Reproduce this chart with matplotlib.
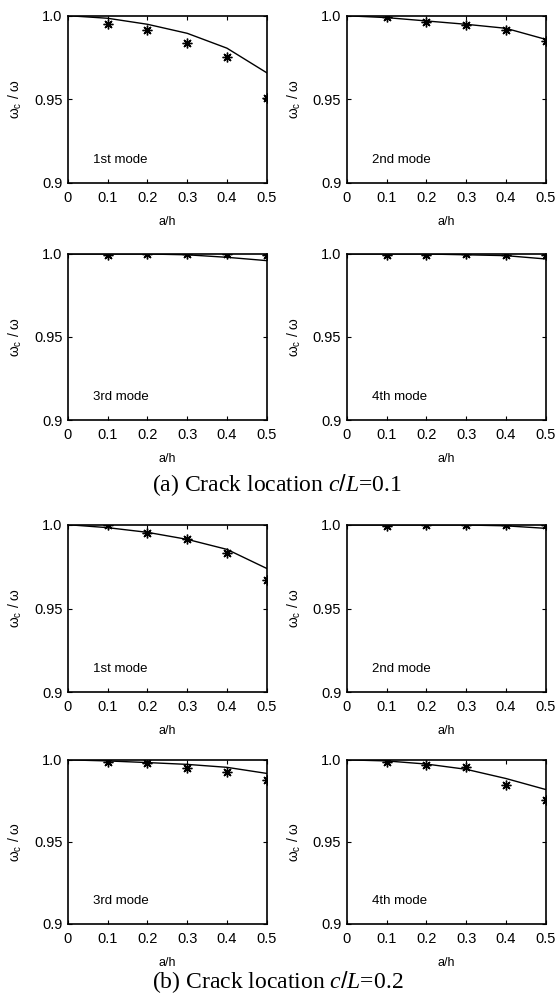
import matplotlib.pyplot as plt

plt.rcParams['font.family'] = ['Liberation Sans', 'DejaVu Sans']
plt.rcParams['mathtext.fontset'] = 'custom'
plt.rcParams['mathtext.rm'] = 'Liberation Sans'
plt.rcParams['mathtext.it'] = 'Liberation Serif:italic'

# crack depth ratio
a_h = [0.1, 0.2, 0.3, 0.4, 0.5]
a_h_line = [0.01, 0.1, 0.2, 0.3, 0.4, 0.5]
modes = ['1st mode', '2nd mode', '3rd mode', '4th mode']

# c/L = 0.1 : measured (stars) and computed (line)
meas_01 = [
    [0.995, 0.9916, 0.9837, 0.9757, 0.951],
    [0.9994, 0.9966, 0.9946, 0.9914, 0.985],
    [0.9994, 1.0, 1.0, 1.0, 0.9994],
    [0.9996, 0.9996, 1.0, 0.9996, 0.9994],
]
calc_01 = [
    [1.0, 0.9986, 0.995, 0.9896, 0.9807, 0.966],
    [1.0, 0.999, 0.997, 0.995, 0.9926, 0.986],
    [1.0, 1.0, 1.0, 0.9995, 0.998, 0.996],
    [1.0, 1.0, 1.0, 0.9995, 0.999, 0.997],
]

# c/L = 0.2
meas_02 = [
    [1.0, 0.995, 0.9914, 0.9834, 0.967],
    [0.9996, 1.0, 1.0, 1.0, 1.0],
    [0.999, 0.998, 0.995, 0.9924, 0.988],
    [0.999, 0.997, 0.996, 0.9846, 0.9754],
]
calc_02 = [
    [1.0, 0.9984, 0.9956, 0.9914, 0.9854, 0.974],
    [1.0, 1.0, 1.0, 1.0, 0.9995, 0.998],
    [1.0, 0.9994, 0.9984, 0.9973, 0.9955, 0.9918],
    [1.0, 0.9994, 0.9975, 0.9943, 0.9887, 0.982],
]

fig = plt.figure(figsize=(5.55, 9.96), dpi=100)

col_left = [0.1225, 0.625]
col_w = 0.358
row_bottom = [0.8163, 0.5783, 0.3052, 0.0723]
row_h = [0.1677, 0.1667, 0.1677, 0.1647]

def panel(ax, meas, calc, label):
    ax.plot(a_h_line, calc, color='black', lw=1.0)
    ax.plot(a_h, meas, ls='none', marker=(8, 2, 0), ms=7, mec='black', mew=1.0)
    ax.set_xlim(0, 0.5)
    ax.set_ylim(0.9, 1.0)
    ax.set_xticks([0, 0.1, 0.2, 0.3, 0.4, 0.5])
    ax.set_xticklabels(['0', '0.1', '0.2', '0.3', '0.4', '0.5'])
    ax.set_yticks([0.9, 0.95, 1.0])
    ax.set_yticklabels(['0.9', '0.95', '1.0'])
    ax.tick_params(direction='in', top=True, right=True, length=3, labelsize=10.5)
    ax.tick_params(axis='x', pad=6)
    ax.tick_params(axis='y', pad=4)
    for s in ax.spines.values():
        s.set_linewidth(1.2)
    ax.set_xlabel('a/h', fontsize=9, labelpad=8)
    ax.set_ylabel(r'$\mathrm{\omega_c}$ / $\mathrm{\omega}$', fontsize=10, labelpad=7)
    ax.text(0.063, 0.914, label, fontsize=9.5, va='center')

for i in range(4):
    r = i // 2
    c = i % 2
    ax = fig.add_axes([col_left[c], row_bottom[r], col_w, row_h[r]])
    panel(ax, meas_01[i], calc_01[i], modes[i])
    ax = fig.add_axes([col_left[c], row_bottom[r + 2], col_w, row_h[r + 2]])
    panel(ax, meas_02[i], calc_02[i], modes[i])

cap_kw = dict(fontsize=17, ha='center', va='center', family='Liberation Serif')
fig.text(0.5, 0.513, r'(a) Crack location $c/L$=0.1', **cap_kw)
fig.text(0.5, 0.014, r'(b) Crack location $c/L$=0.2', **cap_kw)

fig.savefig('out.png', dpi=100)
